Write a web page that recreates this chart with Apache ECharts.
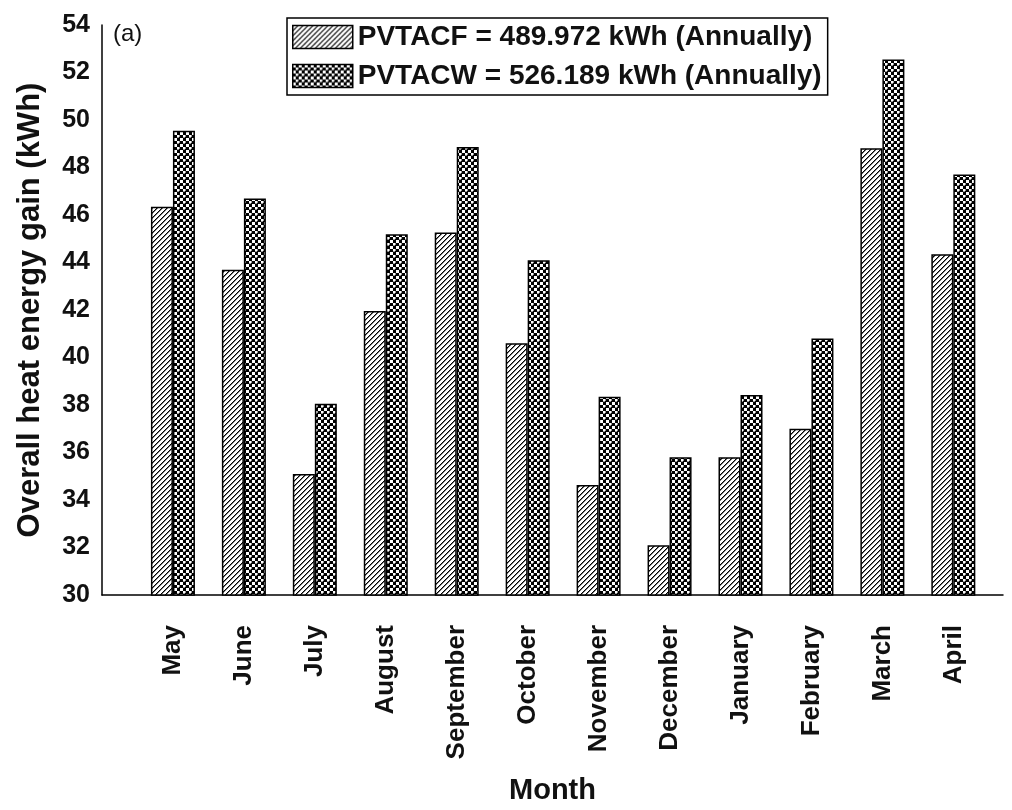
<!DOCTYPE html>
<html>
<head>
<meta charset="utf-8">
<script src="https://cdn.jsdelivr.net/npm/echarts@6/dist/echarts.min.js"></script>
<style>
  html, body { margin: 0; padding: 0; background: #fff; }
  #chart { width: 1012px; height: 810px; }
</style>
</head>
<body>
<div id="chart"></div>
<script>
// months on the x axis
const months = ["May", "June", "July", "August", "September", "October",
    "November", "December", "January", "February", "March", "April"];
// overall heat energy gain (kWh)
const pvtacf = [46.35, 43.7, 35.1, 41.96, 45.26, 40.6, 34.63, 32.1, 35.8, 37.0, 48.81, 44.35];
const pvtacw = [49.55, 46.7, 38.05, 45.19, 48.86, 44.1, 38.35, 35.8, 38.42, 40.8, 52.55, 47.71];
const seriesNames = ["PVTACF = 489.972 kWh (Annually)", "PVTACW = 526.189 kWh (Annually)"];

const FONT = "'Liberation Sans', Arial, sans-serif";

// hatch "////" on white
function hatchTile() {
    const c = document.createElement("canvas");
    c.width = 5; c.height = 5;
    const ctx = c.getContext("2d");
    ctx.fillStyle = "#fff";
    ctx.fillRect(0, 0, 5, 5);
    ctx.fillStyle = "#000";
    for (let x = 0; x < 5; x++) {
        for (let y = 0; y < 5; y++) {
            if ((x + y) % 5 === 4) ctx.fillRect(x, y, 1, 1);
            if ((x + y) % 5 === 0) { ctx.fillStyle = "#777"; ctx.fillRect(x, y, 1, 1); ctx.fillStyle = "#000"; }
        }
    }
    return c;
}

// dotted checker, white dots on black
function checkTile() {
    const c = document.createElement("canvas");
    c.width = 6; c.height = 6;
    const ctx = c.getContext("2d");
    ctx.fillStyle = "#000";
    ctx.fillRect(0, 0, 6, 6);
    ctx.fillStyle = "#fff";
    ctx.fillRect(0, 0, 3, 3);
    ctx.fillRect(3, 3, 2, 2);
    ctx.fillStyle = "#999";
    ctx.fillRect(5, 3, 1, 2);
    ctx.fillRect(3, 5, 2, 1);
    return c;
}

const chart = echarts.init(document.getElementById("chart"), null, { renderer: "canvas" });

const barStyle = (tile) => ({
    color: { image: tile, repeat: "repeat" },
    borderColor: "#000",
    borderWidth: 1.5
});

const option = {
    backgroundColor: "#fff",
    animation: false,
    grid: { left: 102, top: 25, right: 9, bottom: 215 },
    legend: {
        left: 287,
        top: 18,
        orient: "vertical",
        data: seriesNames,
        icon: "rect",
        itemWidth: 60,
        itemHeight: 23,
        itemGap: 11,
        padding: [5, 6, 5, 5],
        borderColor: "#000",
        borderWidth: 1.5,
        textStyle: { fontFamily: FONT, fontWeight: "bold", fontSize: 28, color: "#111" },
        itemStyle: { borderColor: "#000", borderWidth: 1.5 }
    },
    xAxis: {
        type: "value",
        min: 0,
        max: 12.7,
        interval: 1,
        name: "Month",
        nameLocation: "middle",
        nameGap: 181,
        nameTextStyle: { fontFamily: FONT, fontWeight: "bold", fontSize: 29, color: "#111" },
        axisLine: { show: true, onZero: false, lineStyle: { color: "#000", width: 1.5 } },
        axisTick: { show: false },
        splitLine: { show: false },
        axisLabel: {
            rotate: 90,
            margin: 30,
            fontFamily: FONT,
            fontWeight: "bold",
            fontSize: 26,
            color: "#111",
            showMaxLabel: false,
            formatter: (v) => months[v - 1] || ""
        }
    },
    yAxis: {
        type: "value",
        min: 30,
        max: 54,
        interval: 2,
        name: "Overall heat energy gain (kWh)",
        nameLocation: "middle",
        nameGap: 56,
        nameTextStyle: { fontFamily: FONT, fontWeight: "bold", fontSize: 31, color: "#111" },
        axisLine: { show: true, lineStyle: { color: "#000", width: 1.5 } },
        axisTick: { show: false },
        splitLine: { show: false },
        axisLabel: { margin: 12, fontFamily: FONT, fontWeight: "bold", fontSize: 25, color: "#111" }
    },
    graphic: [{
        type: "text",
        left: 113,
        top: 22,
        style: { text: "(a)", font: "24px " + FONT, fill: "#111" }
    }],
    series: [
        {
            name: seriesNames[0],
            type: "bar",
            barWidth: 22,
            barGap: "0%",
            itemStyle: barStyle(hatchTile()),
            data: months.map((m, i) => [i + 1, pvtacf[i]])
        },
        {
            name: seriesNames[1],
            type: "bar",
            barWidth: 22,
            barGap: "0%",
            itemStyle: barStyle(checkTile()),
            data: months.map((m, i) => [i + 1, pvtacw[i]])
        }
    ]
};

chart.setOption(option);
</script>
</body>
</html>
